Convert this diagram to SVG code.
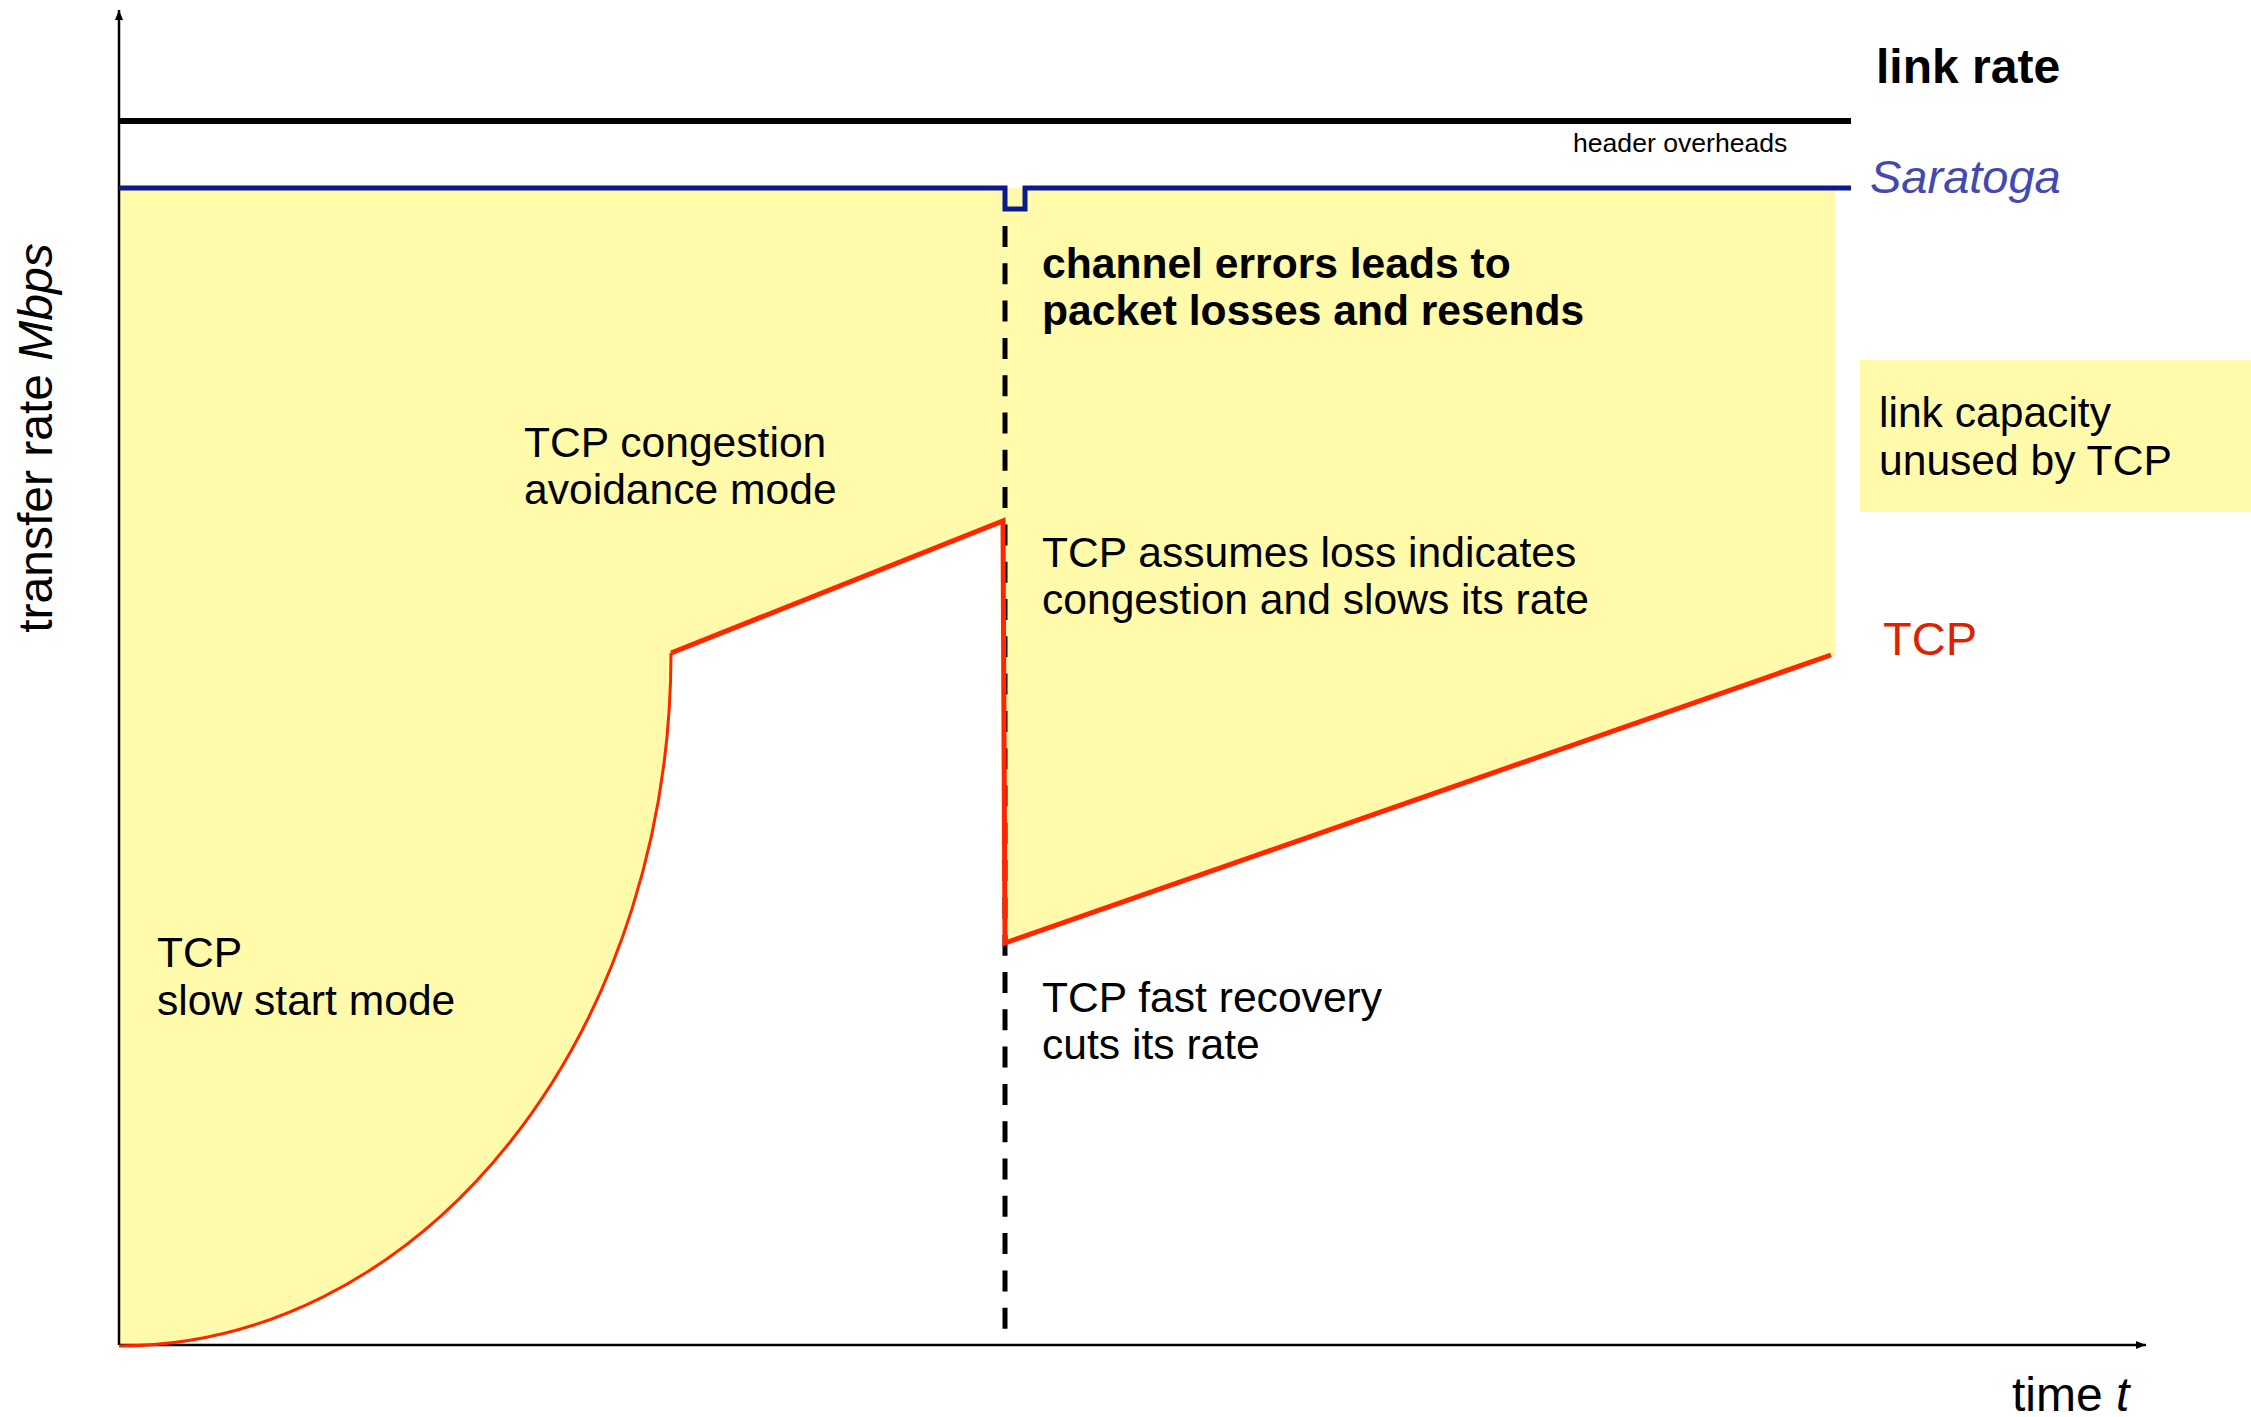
<svg xmlns="http://www.w3.org/2000/svg" width="2251" height="1417" viewBox="0 0 2251 1417">
<style>
text{font-family:"Liberation Sans",Arial,sans-serif;fill:#000}
.lbl{font-size:42.6px}
.b{font-weight:bold}
.red{stroke:#ff2600;fill:none;stroke-linejoin:miter}
</style>
<defs>
<marker id="ah" viewBox="0 0 10 8" refX="10" refY="4" markerWidth="10" markerHeight="8" markerUnits="userSpaceOnUse" orient="auto">
<path d="M0,0 L10,4 L0,8 Z" fill="#000"/>
</marker>
</defs>
<rect width="2251" height="1417" fill="#fff"/>
<g id="unused-area">
<path d="M119,188 H1835 V655 L1005,943 L1003,521 L671,653 A552,693 0 0 1 119,1346 Z" fill="#fffbaa"/>
</g>
<g id="legend-box">
<rect x="1860" y="360" width="391" height="152" fill="#fffbaa"/>
<text class="lbl" x="1879" y="427">link capacity</text>
<text class="lbl" x="1879" y="475">unused by TCP</text>
</g>
<g id="connectors">
<line x1="1005" y1="226" x2="1005" y2="1330" stroke="#000" stroke-width="5" stroke-dasharray="21 16.3"/>
<line x1="119" y1="1345" x2="119" y2="10" stroke="#000" stroke-width="2.5" marker-end="url(#ah)"/>
<line x1="119" y1="1345" x2="2146" y2="1345" stroke="#000" stroke-width="2.5" marker-end="url(#ah)"/>
<line x1="119" y1="121" x2="1851" y2="121" stroke="#000" stroke-width="6"/>
<path d="M119,188 H1005 V209 H1025 V188 H1851" fill="none" stroke="#0b1b8c" stroke-width="5"/>
<path class="red" d="M119,1346 A552,693 0 0 0 671,653" stroke-width="3"/>
<path class="red" d="M671,653 L1003,521 L1005,943 L1831,655" stroke-width="5"/>
</g>
<g id="link-rate"><text class="b" x="1876" y="83" font-size="48">link rate</text></g>
<g id="header-overheads"><text x="1573" y="152" font-size="26.6">header overheads</text></g>
<g id="saratoga"><text x="1870" y="193" font-size="47" font-style="italic" style="fill:#4349b0">Saratoga</text></g>
<g id="tcp-label"><text x="1883" y="655" font-size="47" style="fill:#dd2200">TCP</text></g>
<g id="channel-errors">
<text class="lbl b" x="1042" y="278">channel errors leads to</text>
<text class="lbl b" x="1042" y="325">packet losses and resends</text>
</g>
<g id="congestion-avoidance">
<text class="lbl" x="524" y="457">TCP congestion</text>
<text class="lbl" x="524" y="504">avoidance mode</text>
</g>
<g id="assumes-loss">
<text class="lbl" x="1042" y="567">TCP assumes loss indicates</text>
<text class="lbl" x="1042" y="614">congestion and slows its rate</text>
</g>
<g id="slow-start">
<text class="lbl" x="157" y="967">TCP</text>
<text class="lbl" x="157" y="1015">slow start mode</text>
</g>
<g id="fast-recovery">
<text class="lbl" x="1042" y="1012">TCP fast recovery</text>
<text class="lbl" x="1042" y="1059">cuts its rate</text>
</g>
<g id="y-label"><text transform="translate(52,438) rotate(-90)" text-anchor="middle" font-size="48">transfer rate <tspan font-style="italic">Mbps</tspan></text></g>
<g id="x-label"><text x="2012" y="1411" font-size="48">time <tspan font-style="italic">t</tspan></text></g>
</svg>
